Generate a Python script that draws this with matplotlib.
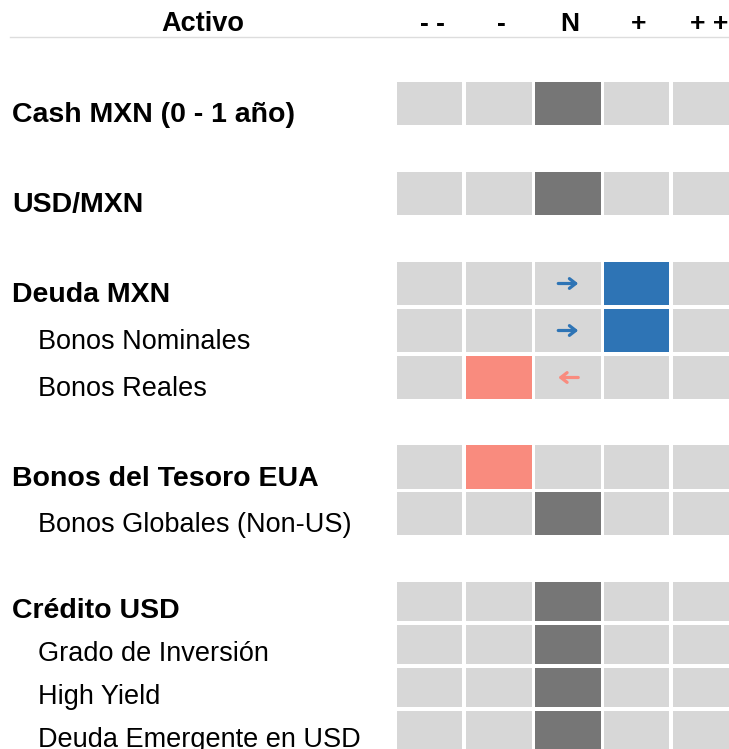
import matplotlib.pyplot as plt

# Data
headers = ["- -", "-", "N", "+", "+ +"]
assets = [
    "Cash MXN (0 - 1 año)",
    "USD/MXN",
    "Deuda MXN",
    "Bonos Nominales",
    "Bonos Reales",
    "Bonos del Tesoro EUA",
    "Bonos Globales (Non-US)",
    "Crédito USD",
    "Grado de Inversión",
    "High Yield",
    "Deuda Emergente en USD",
]
is_group = [True, True, True, False, False, True, False, True, False, False, False]
# view: 0 = "- -", 1 = "-", 2 = "N", 3 = "+", 4 = "+ +"
view = [2, 2, 3, 3, 1, 1, 2, 2, 2, 2, 2]
# previous view (None = no change)
prev_view = [None, None, 2, 2, 2, None, None, None, None, None, None]

# Layout (pixels)
row_top = [82, 172, 262, 309, 356, 445, 492, 582, 625, 668, 711]
row_h = [43, 43, 43, 43, 43, 44, 43, 39, 39, 39, 39]
col_left = [397, 466.5, 535.5, 604, 673]
col_w = 65.5

c_empty = "#d7d7d7"
c_neutral = "#767676"
c_up = "#2e74b5"
c_down = "#f98b7e"

plt.rcParams['font.family'] = ['Liberation Sans', 'DejaVu Sans']

fig = plt.figure(figsize=(7.29, 7.49), dpi=100)
ax = fig.add_axes([0, 0, 1, 1])
ax.set_xlim(0, 729)
ax.set_ylim(749, 0)
ax.axis('off')

# header
ax.text(203, 31, "Activo", ha='center', va='baseline', fontsize=19.5, fontweight='bold')
hx = [432, 501, 570, 639, 709]
for j, h in enumerate(headers):
    ax.text(hx[j], 31, h, ha='center', va='baseline', fontsize=19, fontweight='bold')
ax.plot([10, 729], [37, 37], color='#dddddd', lw=1)

for i, name in enumerate(assets):
    top, h = row_top[i], row_h[i]
    yc = top + h / 2
    base = top + h - 3
    if is_group[i]:
        ax.text(12, base, name, ha='left', va='baseline', fontsize=20.5, fontweight='bold')
    else:
        ax.text(38, base, name, ha='left', va='baseline', fontsize=19.5)
    colors = []
    for j in range(5):
        if j == view[i]:
            colors.append(c_neutral if j == 2 else (c_up if j > 2 else c_down))
        else:
            colors.append(c_empty)
    ax.bar([l + col_w / 2 for l in col_left], [h] * 5, width=col_w, bottom=top,
           color=colors, linewidth=0)
    if prev_view[i] is not None:
        up = view[i] > prev_view[i]
        cx = col_left[prev_view[i]] + col_w / 2
        d = 10 if up else -10
        ax.annotate("", xy=(cx + d, yc), xytext=(cx - d, yc),
                    arrowprops=dict(arrowstyle='->,head_length=0.45,head_width=0.35',
                                    lw=2.3, color=c_up if up else c_down,
                                    shrinkA=0, shrinkB=0))

fig.savefig("out.png", dpi=100)
